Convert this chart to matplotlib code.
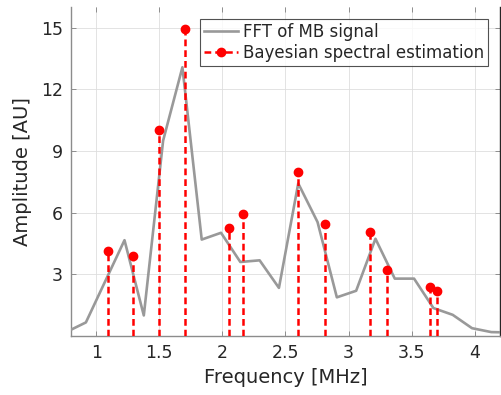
import matplotlib
matplotlib.use("Agg")
import matplotlib.pyplot as plt
from matplotlib.lines import Line2D

# FFT of MB signal (grey line)
fft_freq = [0.765, 0.918, 1.224, 1.377, 1.530, 1.683, 1.836, 1.989, 2.142, 2.295,
            2.448, 2.601, 2.754, 2.907, 3.060, 3.213, 3.366, 3.519, 3.672, 3.825,
            3.978, 4.131, 4.284]
fft_amp = [0.2, 0.66, 4.66, 1.0, 9.5, 13.07, 4.69, 5.02, 3.6, 3.68,
           2.34, 7.42, 5.54, 1.88, 2.2, 4.73, 2.79, 2.79, 1.36, 1.03,
           0.38, 0.19, 0.17]

# Bayesian spectral estimation (red stems)
bay_freq = [1.094, 1.289, 1.497, 1.700, 2.052, 2.160, 2.602, 2.810, 3.170, 3.307, 3.647, 3.702]
bay_amp = [4.11, 3.90, 10.02, 14.95, 5.26, 5.91, 7.98, 5.47, 5.08, 3.20, 2.39, 2.17]

xticks = [1, 1.5, 2, 2.5, 3, 3.5, 4]
xticklabels = ["1", "1.5", "2", "2.5", "3", "3.5", "4"]
yticks = [3, 6, 9, 12, 15]
yticklabels = ["3", "6", "9", "12", "15"]

labels = ["FFT of MB signal", "Bayesian spectral estimation"]

plt.rcParams['font.family'] = ['DejaVu Sans']

fig = plt.figure(figsize=(5.01, 3.95), dpi=100)
ax = fig.add_axes([71/501, 59/395, 429/501, 329/395])

grey = '#999999'
red = '#ff0000'
dash = (0, (2.7, 1.6))

ax.plot(fft_freq, fft_amp, color=grey, lw=1.9, zorder=3)
ax.vlines(bay_freq, 0, bay_amp, colors=red, linestyles=[dash], lw=1.8, zorder=4)
ax.plot(bay_freq, bay_amp, 'o', color=red, ms=6, zorder=5)

ax.set_xlim(0.8, 4.2)
ax.set_ylim(0, 16)
ax.set_xticks(xticks)
ax.set_xticklabels(xticklabels)
ax.set_yticks(yticks)
ax.set_yticklabels(yticklabels)

ax.grid(True, color='#dedede', lw=0.6, zorder=0)
ax.set_axisbelow(True)

ax.tick_params(direction='in', length=3.5, width=0.6, color='#808080',
               labelsize=12.5, labelcolor='#262626', top=True, right=True, pad=6)
for s in ['left', 'bottom']:
    ax.spines[s].set_color('#8c8c8c')
    ax.spines[s].set_linewidth(1.0)
ax.spines['top'].set_visible(False)
ax.spines['right'].set_color('#262626')
ax.spines['right'].set_linewidth(1.0)

ax.set_xlabel("Frequency [MHz]", fontsize=14, color='#262626', labelpad=4)
ax.set_ylabel("Amplitude [AU]", fontsize=14, color='#262626', labelpad=6)

handles = [Line2D([], [], color=grey, lw=1.9),
           Line2D([], [], color=red, lw=1.8, linestyle=dash, marker='o', ms=6)]
leg = ax.legend(handles, labels, loc='upper right', bbox_to_anchor=(488/501, 1 - 19/395),
                bbox_transform=fig.transFigure, fontsize=12, frameon=True, fancybox=False,
                borderpad=0.25, handlelength=2.0, handletextpad=0.3, labelspacing=0.15,
                borderaxespad=0.0)
leg.get_frame().set_edgecolor('#262626')
leg.get_frame().set_linewidth(0.8)
for t in leg.get_texts():
    t.set_color('#262626')

fig.savefig("out.png", dpi=100)
